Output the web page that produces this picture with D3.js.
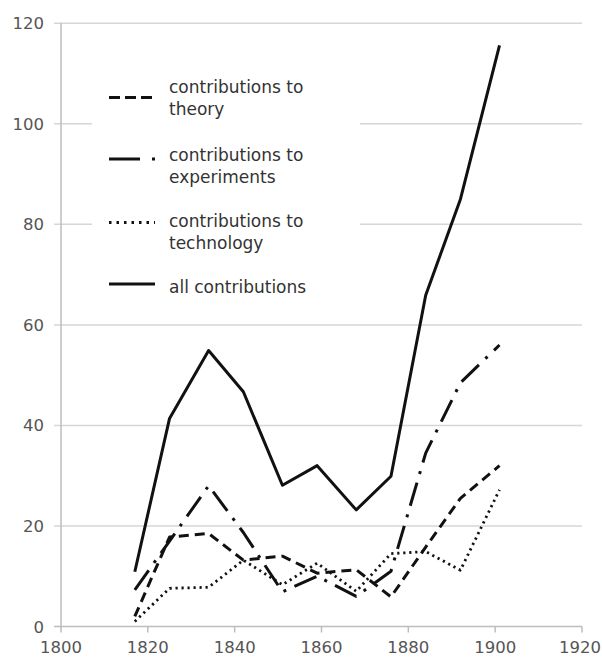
<!DOCTYPE html>
<html>
<head>
<meta charset="utf-8">
<script src="https://cdn.jsdelivr.net/npm/d3@7"></script>
<style>
	body { margin: 0; background: #fff; }
	text { font-family: "DejaVu Sans", Verdana, sans-serif; }
</style>
</head>
<body>
<div id="viz"></div>
<script>
var width = 602;
var height = 658;

var years = [1817, 1825, 1834, 1842, 1851, 1859, 1868, 1876, 1884, 1892, 1901];
var theory = [2.0, 17.8, 18.5, 13.2, 14.0, 10.6, 11.3, 5.9, 15.8, 25.5, 32.0];
var experiments = [7.3, 17.0, 28.0, 18.7, 6.9, 10.0, 6.0, 11.0, 34.5, 48.5, 56.0];
var technology = [1.0, 7.6, 7.8, 13.2, 8.3, 12.6, 7.0, 14.5, 14.9, 11.2, 27.2];
var all = [10.9, 41.4, 54.9, 46.7, 28.1, 32.0, 23.2, 29.9, 65.9, 85.0, 115.6];

var xTicks = [1800, 1820, 1840, 1860, 1880, 1900, 1920];
var yTicks = [0, 20, 40, 60, 80, 100, 120];

var legendLabels = [
	["contributions to", "theory"],
	["contributions to", "experiments"],
	["contributions to", "technology"],
	["all contributions"]
];

var series = [
	{ name: "theory", values: theory, dash: "10,6", legendDash: "11,5", width: 3 },
	{ name: "experiments", values: experiments, dash: "24,9,3,9", legendDash: "31,12,3,20", width: 3 },
	{ name: "technology", values: technology, dash: "2.2,3.8", legendDash: "2.5,5", width: 2.8 },
	{ name: "all", values: all, dash: null, legendDash: null, width: 3 }
];

var x = d3.scaleLinear()
	.domain([1800, 1920])
	.range([61, 582]);

var y = d3.scaleLinear()
	.domain([0, 120])
	.range([626.5, 23.3]);

var svg = d3.select("#viz").append("svg")
	.attr("width", width)
	.attr("height", height);

// gridlines + y ticks
svg.selectAll(".grid")
		.data(yTicks)
	.enter().append("line")
		.attr("class", "grid")
		.attr("x1", x(1800) - 7)
		.attr("x2", x(1920))
		.attr("y1", function(d) { return y(d); })
		.attr("y2", function(d) { return y(d); })
		.style("stroke", function(d) { return d == 0 ? "#bdbdbd" : "#d6d6d6"; })
		.style("stroke-width", 1.5);

svg.append("line")
	.attr("x1", x(1800))
	.attr("x2", x(1800))
	.attr("y1", y(120))
	.attr("y2", y(0))
	.style("stroke", "#bdbdbd")
	.style("stroke-width", 1.5);

svg.selectAll(".xtick")
		.data(xTicks)
	.enter().append("line")
		.attr("class", "xtick")
		.attr("x1", function(d) { return x(d); })
		.attr("x2", function(d) { return x(d); })
		.attr("y1", y(0))
		.attr("y2", y(0) + 6)
		.style("stroke", "#bdbdbd")
		.style("stroke-width", 1.5);

svg.selectAll(".ylabel")
		.data(yTicks)
	.enter().append("text")
		.attr("class", "ylabel")
		.attr("x", 44)
		.attr("y", function(d) { return y(d) + 6; })
		.attr("text-anchor", "end")
		.style("font-size", "16.5px")
		.style("fill", "#555")
		.text(function(d) { return d; });

// last label pulled in so it stays inside the page
svg.selectAll(".xlabel")
		.data(xTicks)
	.enter().append("text")
		.attr("class", "xlabel")
		.attr("x", function(d) { return d == 1920 ? width - 1 : x(d); })
		.attr("y", 653)
		.attr("text-anchor", function(d) { return d == 1920 ? "end" : "middle"; })
		.style("font-size", "16.5px")
		.style("fill", "#555")
		.text(function(d) { return d; });

var line = d3.line()
	.x(function(d, i) { return x(years[i]); })
	.y(function(d) { return y(d); });

svg.selectAll(".series")
		.data(series)
	.enter().append("path")
		.attr("class", "series")
		.attr("d", function(d) { return line(d.values); })
		.style("fill", "none")
		.style("stroke", "#111")
		.style("stroke-width", function(d) { return d.width; })
		.style("stroke-dasharray", function(d) { return d.dash; })
		.style("stroke-linejoin", "round");

// legend
var legendRowY = [97.5, 159, 222.5, 284];
var legendTextY = [93, 161, 227, 293];

svg.append("rect")
	.attr("x", 92)
	.attr("y", 64)
	.attr("width", 268)
	.attr("height", 240)
	.style("fill", "#fff");

var legend = svg.selectAll(".legend")
		.data(series)
	.enter().append("g")
		.attr("class", "legend");

legend.append("line")
	.attr("x1", 109)
	.attr("x2", 155)
	.attr("y1", function(d, i) { return legendRowY[i]; })
	.attr("y2", function(d, i) { return legendRowY[i]; })
	.style("stroke", "#111")
	.style("stroke-width", 3)
	.style("stroke-dasharray", function(d) { return d.legendDash; });

legend.append("text")
	.attr("x", 169)
	.attr("y", function(d, i) { return legendTextY[i]; })
	.style("font-size", "17px")
	.style("fill", "#333")
	.selectAll("tspan")
		.data(function(d, i) { return legendLabels[i]; })
	.enter().append("tspan")
		.attr("x", 169)
		.attr("dy", function(d, j) { return j == 0 ? 0 : 22; })
		.text(function(d) { return d; });
</script>
</body>
</html>
